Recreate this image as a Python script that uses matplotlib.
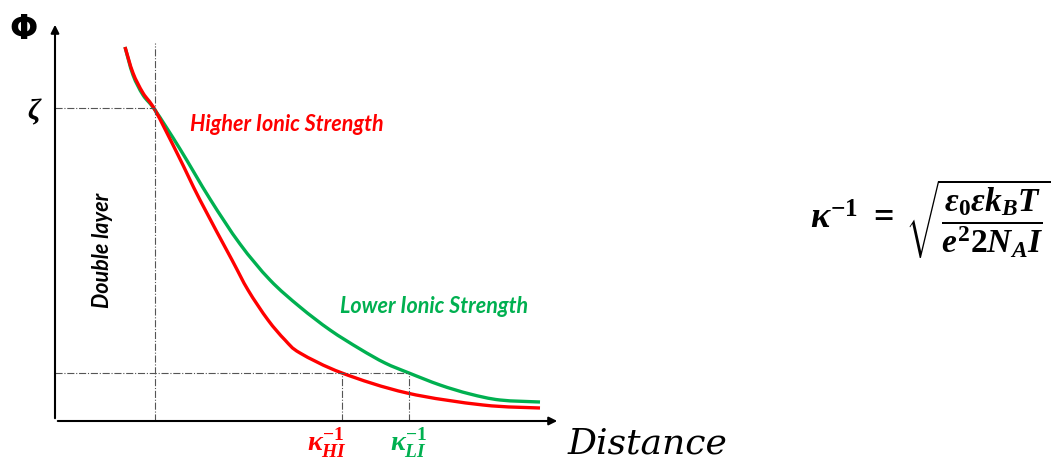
import matplotlib
matplotlib.use("Agg")
import matplotlib.pyplot as plt
import numpy as np
from matplotlib.path import Path
from matplotlib.patches import PathPatch

plt.rcParams['mathtext.fontset'] = 'custom'
plt.rcParams['mathtext.rm'] = 'Liberation Serif:bold'
plt.rcParams['mathtext.it'] = 'Liberation Serif:bold:italic'
plt.rcParams['mathtext.bf'] = 'Liberation Serif:bold'

# potential vs distance (arbitrary units)
red_d = [1.40, 1.56, 1.76, 2.00, 2.46, 2.90, 3.54, 3.86, 4.26, 4.60, 4.90, 5.74, 7.04, 8.56, 9.70]
red_phi = [7.48, 6.96, 6.56, 6.22, 5.32, 4.42, 3.22, 2.62, 2.02, 1.62, 1.36, 0.96, 0.56, 0.32, 0.26]

green_d = [1.40, 1.56, 1.76, 2.00, 2.50, 3.10, 3.70, 4.30, 4.90, 5.50, 6.10, 6.60, 7.08,
           7.70, 8.30, 8.90, 9.70]
green_phi = [7.48, 6.92, 6.52, 6.22, 5.44, 4.44, 3.54, 2.82, 2.28, 1.82, 1.44, 1.16, 0.96,
             0.72, 0.54, 0.42, 0.38]

zeta_d, zeta_phi = 2.00, 6.26
kappa_hi, kappa_li, kappa_phi = 5.74, 7.08, 0.96

RED = '#FF0000'
GREEN = '#00B050'
font = 'Lato'


def smooth_path(xs, ys):
    # curve through the read points (Catmull-Rom as cubic Beziers)
    p = np.column_stack([xs, ys])
    p = np.vstack([p[0], p, p[-1]])
    verts = [p[1]]
    codes = [Path.MOVETO]
    for i in range(1, len(p) - 2):
        c1 = p[i] + (p[i + 1] - p[i - 1]) / 6
        c2 = p[i + 1] - (p[i + 2] - p[i]) / 6
        verts += [c1, c2, p[i + 1]]
        codes += [Path.CURVE4] * 3
    return Path(verts, codes)


fig = plt.figure(figsize=(10.51, 4.61), dpi=100)
ax = fig.add_axes([0, 0, 1, 1])
ax.set_xlim(-1.1, 19.92)
ax.set_ylim(-0.8, 8.42)
ax.axis('off')

# axes with arrows
ax.annotate('', xy=(0, 7.98), xytext=(0, 0),
            arrowprops=dict(arrowstyle='-|>', color='black', lw=1.5, mutation_scale=12))
ax.annotate('', xy=(10.1, 0), xytext=(0, 0),
            arrowprops=dict(arrowstyle='-|>', color='black', lw=1.5, mutation_scale=12))

# guide lines
guide = dict(color='#555555', lw=0.8, ls='-.')
ax.plot([0, zeta_d], [zeta_phi, zeta_phi], **guide)
ax.plot([zeta_d, zeta_d], [0, 7.56], **guide)
ax.plot([0, kappa_li], [kappa_phi, kappa_phi], **guide)
ax.plot([kappa_hi, kappa_hi], [0, kappa_phi], **guide)
ax.plot([kappa_li, kappa_li], [0, kappa_phi], **guide)

for xs, ys, c in [(green_d, green_phi, GREEN), (red_d, red_phi, RED)]:
    ax.add_patch(PathPatch(smooth_path(xs, ys), fill=False, edgecolor=c, lw=2.4,
                           capstyle='butt', joinstyle='round'))

# labels
ax.text(-0.62, 7.84, 'Φ', fontsize=24, fontweight='bold', ha='center', va='center')
ax.text(-0.42, 6.18, 'ζ', fontsize=21, family='Liberation Serif', fontweight='bold',
        style='italic', ha='center', va='center')
ax.text(2.70, 5.94, 'Higher Ionic Strength', color=RED, fontsize=15.5,
        family=font, fontweight='bold', style='italic', ha='left', va='center')
ax.text(5.70, 2.30, 'Lower Ionic Strength', color=GREEN, fontsize=15.5,
        family=font, fontweight='bold', style='italic', ha='left', va='center')
ax.text(0.96, 3.42, 'Double layer', color='black', fontsize=15.5, rotation=90,
        family=font, fontweight='bold', style='italic', ha='center', va='center')
ax.text(5.44, -0.44, r'$\kappa_{HI}^{-1}$', color=RED, fontsize=20, ha='center', va='center')
ax.text(7.08, -0.44, r'$\kappa_{LI}^{-1}$', color=GREEN, fontsize=20, ha='center', va='center')
ax.text(10.26, -0.44, 'Distance', fontsize=26, family='DejaVu Serif', style='italic',
        ha='left', va='center')

# Debye length formula
ax.text(15.10, 4.04, r'$\kappa^{-1}\ =$', fontsize=26, ha='left', va='center')
ax.text(17.00, 4.06,
        r'$\sqrt{\dfrac{\varepsilon_0 \varepsilon k_B T}{e^2 2 N_A I}}$',
        fontsize=24, ha='left', va='center')

fig.savefig('out.png', dpi=100)
